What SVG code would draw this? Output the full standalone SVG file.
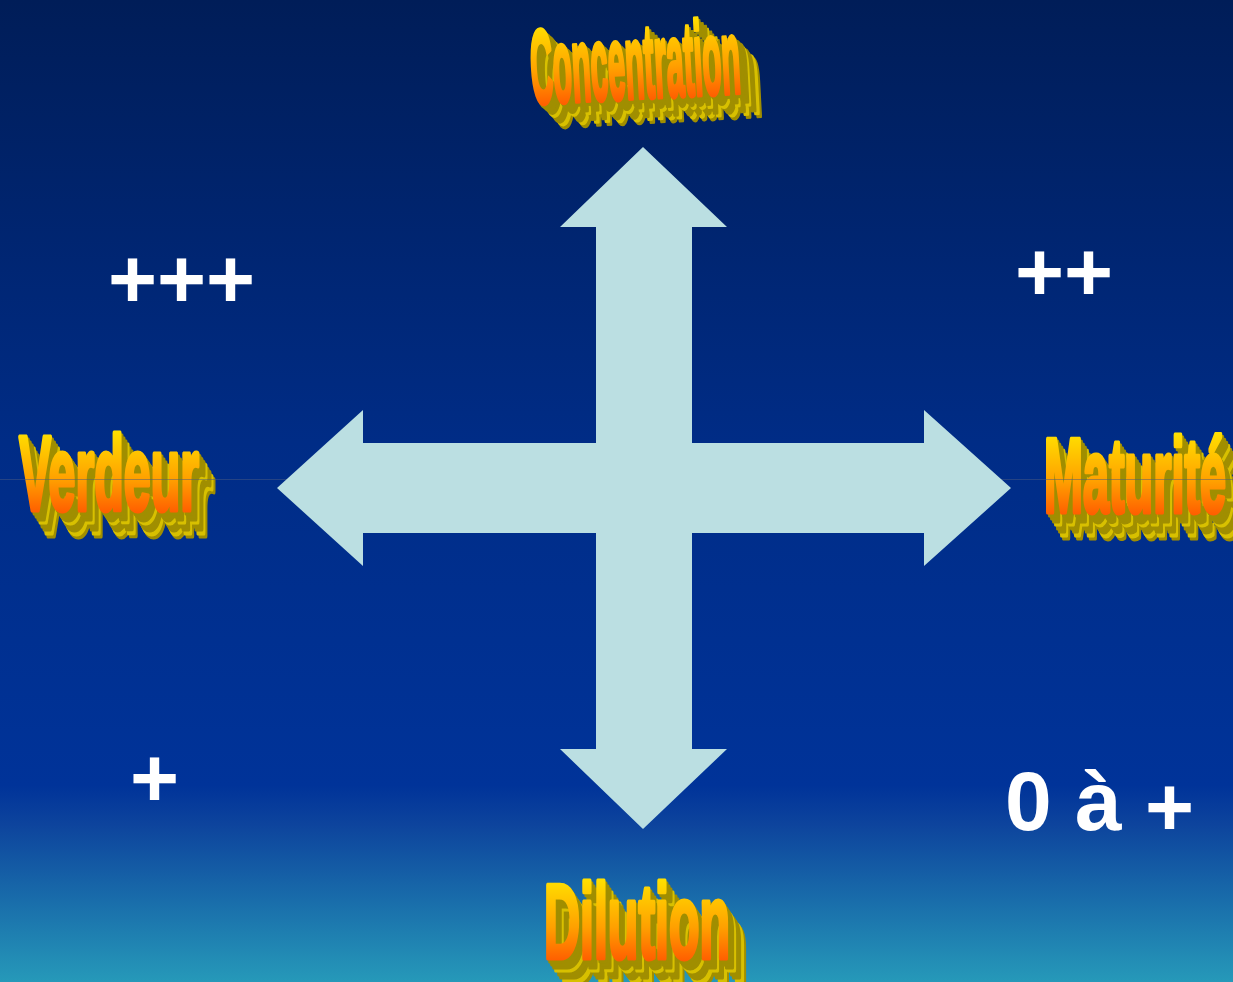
<svg xmlns="http://www.w3.org/2000/svg" xmlns:xlink="http://www.w3.org/1999/xlink" width="1233" height="982" viewBox="0 0 1233 982">
<defs>
<linearGradient id="bg" x1="0" y1="0" x2="0" y2="1">
<stop offset="0" stop-color="#001d58"/>
<stop offset="0.45" stop-color="#002c86"/>
<stop offset="0.8" stop-color="#003399"/>
<stop offset="0.84" stop-color="#0d449d"/>
<stop offset="1" stop-color="#2699b9"/>
</linearGradient>
<linearGradient id="face" x1="0" y1="0" x2="0" y2="1">
<stop offset="0.1" stop-color="#ffe600"/>
<stop offset="0.55" stop-color="#ffa000"/>
<stop offset="1" stop-color="#ff3800"/>
</linearGradient>
<style>
.wa{font-family:"Liberation Sans Narrow","Liberation Sans",Arial,sans-serif;font-weight:bold;font-size:105px;stroke-width:5;stroke-linejoin:round}
.ex{fill:#a08e00;stroke:#a08e00}
.exl{fill:#d8c000;stroke:#d8c000}
.front{fill:url(#face);stroke:url(#face)}
.plus{font-family:"Liberation Sans",Arial,sans-serif;font-weight:bold;font-size:84px;fill:#ffffff}
</style>
<text id="t-conc" class="wa" x="530" y="98" textLength="210" lengthAdjust="spacingAndGlyphs">Concentration</text>
<text id="t-verd" class="wa" x="19" y="510" textLength="180" lengthAdjust="spacingAndGlyphs">Verdeur</text>
<text id="t-mat" class="wa" x="1044" y="512" textLength="182" lengthAdjust="spacingAndGlyphs">Maturité</text>
<text id="t-dil" class="wa" x="544" y="958" textLength="186" lengthAdjust="spacingAndGlyphs">Dilution</text>
</defs>
<rect id="background" x="0" y="0" width="1233" height="982" fill="url(#bg)"/>

<g id="concentration" transform="rotate(-3 636 60)">
<use xlink:href="#t-conc" class="ex" x="20" y="24"/>
<use xlink:href="#t-conc" class="exl" x="18" y="21"/>
<use xlink:href="#t-conc" class="ex" x="15" y="18"/>
<use xlink:href="#t-conc" class="ex" x="13" y="15"/>
<use xlink:href="#t-conc" class="exl" x="10" y="12"/>
<use xlink:href="#t-conc" class="ex" x="8" y="9"/>
<use xlink:href="#t-conc" class="ex" x="5" y="6"/>
<use xlink:href="#t-conc" class="ex" x="2" y="3"/>
<use xlink:href="#t-conc" class="front"/>
</g>
<g id="verdeur">
<use xlink:href="#t-verd" class="ex" x="16" y="26"/>
<use xlink:href="#t-verd" class="exl" x="14" y="23"/>
<use xlink:href="#t-verd" class="ex" x="12" y="19"/>
<use xlink:href="#t-verd" class="ex" x="10" y="16"/>
<use xlink:href="#t-verd" class="exl" x="8" y="12"/>
<use xlink:href="#t-verd" class="ex" x="6" y="9"/>
<use xlink:href="#t-verd" class="ex" x="4" y="6"/>
<use xlink:href="#t-verd" class="ex" x="2" y="3"/>
<use xlink:href="#t-verd" class="front"/>
</g>
<g id="maturite">
<use xlink:href="#t-mat" class="ex" x="16" y="26"/>
<use xlink:href="#t-mat" class="exl" x="14" y="23"/>
<use xlink:href="#t-mat" class="ex" x="12" y="19"/>
<use xlink:href="#t-mat" class="ex" x="10" y="16"/>
<use xlink:href="#t-mat" class="exl" x="8" y="12"/>
<use xlink:href="#t-mat" class="ex" x="6" y="9"/>
<use xlink:href="#t-mat" class="ex" x="4" y="6"/>
<use xlink:href="#t-mat" class="ex" x="2" y="3"/>
<use xlink:href="#t-mat" class="front"/>
</g>
<g id="dilution">
<use xlink:href="#t-dil" class="ex" x="18" y="26"/>
<use xlink:href="#t-dil" class="exl" x="16" y="23"/>
<use xlink:href="#t-dil" class="ex" x="13" y="19"/>
<use xlink:href="#t-dil" class="ex" x="11" y="16"/>
<use xlink:href="#t-dil" class="exl" x="8" y="12"/>
<use xlink:href="#t-dil" class="ex" x="6" y="9"/>
<use xlink:href="#t-dil" class="ex" x="4" y="6"/>
<use xlink:href="#t-dil" class="ex" x="2" y="3"/>
<use xlink:href="#t-dil" class="front"/>
</g>

<line id="midline" x1="0" y1="479.5" x2="1233" y2="479.5" stroke="#4a5a80" stroke-opacity="0.5" stroke-width="1"/>

<g id="connectors">
<path id="cross-arrow" d="M643,147 L727,227 L692,227 L692,443 L924,443 L924,410 L1011,488 L924,566 L924,533 L692,533 L692,749 L727,749 L643,829 L560,749 L596,749 L596,533 L363,533 L363,566 L277,488 L363,410 L363,443 L596,443 L596,227 L560,227 Z" fill="#bbdfe2"/>
</g>

<g id="label-ppp"><text class="plus" x="108" y="308">+++</text></g>
<g id="label-pp"><text class="plus" x="1015" y="301">++</text></g>
<g id="label-p"><text class="plus" x="130" y="807">+</text></g>
<g id="label-0ap"><text class="plus" x="1005" y="830" font-size="88">0 à <tspan dy="6">+</tspan></text></g>
</svg>
